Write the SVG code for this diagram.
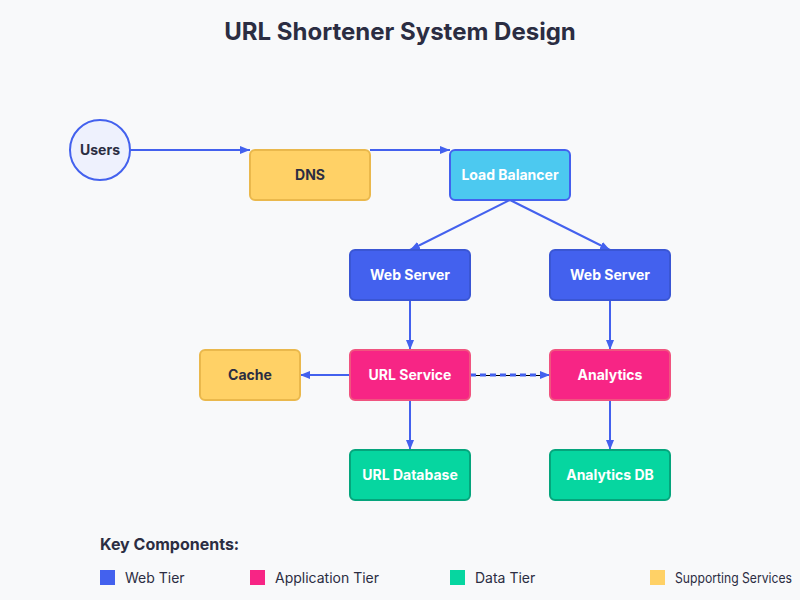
<svg xmlns="http://www.w3.org/2000/svg" width="800" height="600" viewBox="0 0 800 600">
<defs>
<marker id="arr" markerWidth="10" markerHeight="8" refX="10" refY="4" orient="auto" markerUnits="userSpaceOnUse">
<polygon points="0,0 10,4 0,8" fill="#4361EE"/>
</marker>
<style>
.t{font-family:Inter,"Liberation Sans",Arial,sans-serif;font-weight:bold;font-size:14px;text-anchor:middle;dominant-baseline:central}
.w{fill:#ffffff}
.d{fill:#2b2d42}
.web{fill:#4361EE;stroke:#3a56d4;stroke-width:2}
.app{fill:#F72585;stroke:#f0547f;stroke-width:2}
.data{fill:#06D6A0;stroke:#05a57c;stroke-width:2}
.sup{fill:#FFD166;stroke:#eab84c;stroke-width:2}
.lb{fill:#4CC9F0;stroke:#4361EE;stroke-width:2}
.c{stroke:#4361EE;stroke-width:2;fill:none}
.dash{stroke:#4361EE;stroke-width:3;stroke-dasharray:6 4;fill:none}
.lg{font-family:Inter,"Liberation Sans",Arial,sans-serif;font-size:14px;fill:#2b2d42}
</style>
</defs>
<rect width="800" height="600" fill="#f8f9fa"/>
<text x="400" y="31" font-family="Inter,'Liberation Sans',Arial,sans-serif" font-weight="bold" font-size="24" fill="#2b2d42" text-anchor="middle" dominant-baseline="central">URL Shortener System Design</text>

<g id="connectors">
<line class="c" x1="130" y1="150" x2="250" y2="150" marker-end="url(#arr)"/>
<line class="c" x1="370" y1="150" x2="450" y2="150" marker-end="url(#arr)"/>
<line class="c" x1="510" y1="200" x2="410" y2="250" marker-end="url(#arr)"/>
<line class="c" x1="510" y1="200" x2="610" y2="250" marker-end="url(#arr)"/>
<line class="c" x1="410" y1="300" x2="410" y2="350" marker-end="url(#arr)"/>
<line class="c" x1="610" y1="300" x2="610" y2="350" marker-end="url(#arr)"/>
<line class="c" x1="350" y1="375" x2="300" y2="375" marker-end="url(#arr)"/>
<line x1="470" y1="375.5" x2="545" y2="375.5" stroke="#000" stroke-width="1"/>
<path class="dash" d="M470,375 H542"/>
<line class="c" x1="540" y1="375" x2="550" y2="375" marker-end="url(#arr)"/>
<line class="c" x1="410" y1="400" x2="410" y2="450" marker-end="url(#arr)"/>
<line class="c" x1="610" y1="400" x2="610" y2="450" marker-end="url(#arr)"/>
</g>

<g id="users">
<circle cx="100" cy="150" r="30" fill="#eef1fd" stroke="#4361EE" stroke-width="2"/>
<text class="t d" x="100" y="149">Users</text>
</g>
<g id="dns">
<rect class="sup" x="250" y="150" width="120" height="50" rx="5"/>
<text class="t d" x="310" y="174">DNS</text>
</g>
<g id="load-balancer">
<rect class="lb" x="450" y="150" width="120" height="50" rx="5"/>
<text class="t w" x="510" y="174">Load Balancer</text>
</g>
<g id="web-server-1">
<rect class="web" x="350" y="250" width="120" height="50" rx="5"/>
<text class="t w" x="410" y="274">Web Server</text>
</g>
<g id="web-server-2">
<rect class="web" x="550" y="250" width="120" height="50" rx="5"/>
<text class="t w" x="610" y="274">Web Server</text>
</g>
<g id="cache">
<rect class="sup" x="200" y="350" width="100" height="50" rx="5"/>
<text class="t d" x="250" y="374">Cache</text>
</g>
<g id="url-service">
<rect class="app" x="350" y="350" width="120" height="50" rx="5"/>
<text class="t w" x="410" y="374">URL Service</text>
</g>
<g id="analytics">
<rect class="app" x="550" y="350" width="120" height="50" rx="5"/>
<text class="t w" x="610" y="374">Analytics</text>
</g>
<g id="url-database">
<rect class="data" x="350" y="450" width="120" height="50" rx="5"/>
<text class="t w" x="410" y="474">URL Database</text>
</g>
<g id="analytics-db">
<rect class="data" x="550" y="450" width="120" height="50" rx="5"/>
<text class="t w" x="610" y="474">Analytics DB</text>
</g>

<g id="legend">
<text x="100" y="550" font-family="Inter,'Liberation Sans',Arial,sans-serif" font-weight="bold" font-size="16" fill="#2b2d42">Key Components:</text>
<rect x="100" y="570" width="15" height="15" fill="#4361EE"/>
<text class="lg" x="125" y="583">Web Tier</text>
<rect x="250" y="570" width="15" height="15" fill="#F72585"/>
<text class="lg" x="275" y="583">Application Tier</text>
<rect x="450" y="570" width="15" height="15" fill="#06D6A0"/>
<text class="lg" x="475" y="583">Data Tier</text>
<rect x="650" y="570" width="15" height="15" fill="#FFD166"/>
<text class="lg" x="675" y="583" textLength="117" lengthAdjust="spacingAndGlyphs">Supporting Services</text>
</g>
</svg>
